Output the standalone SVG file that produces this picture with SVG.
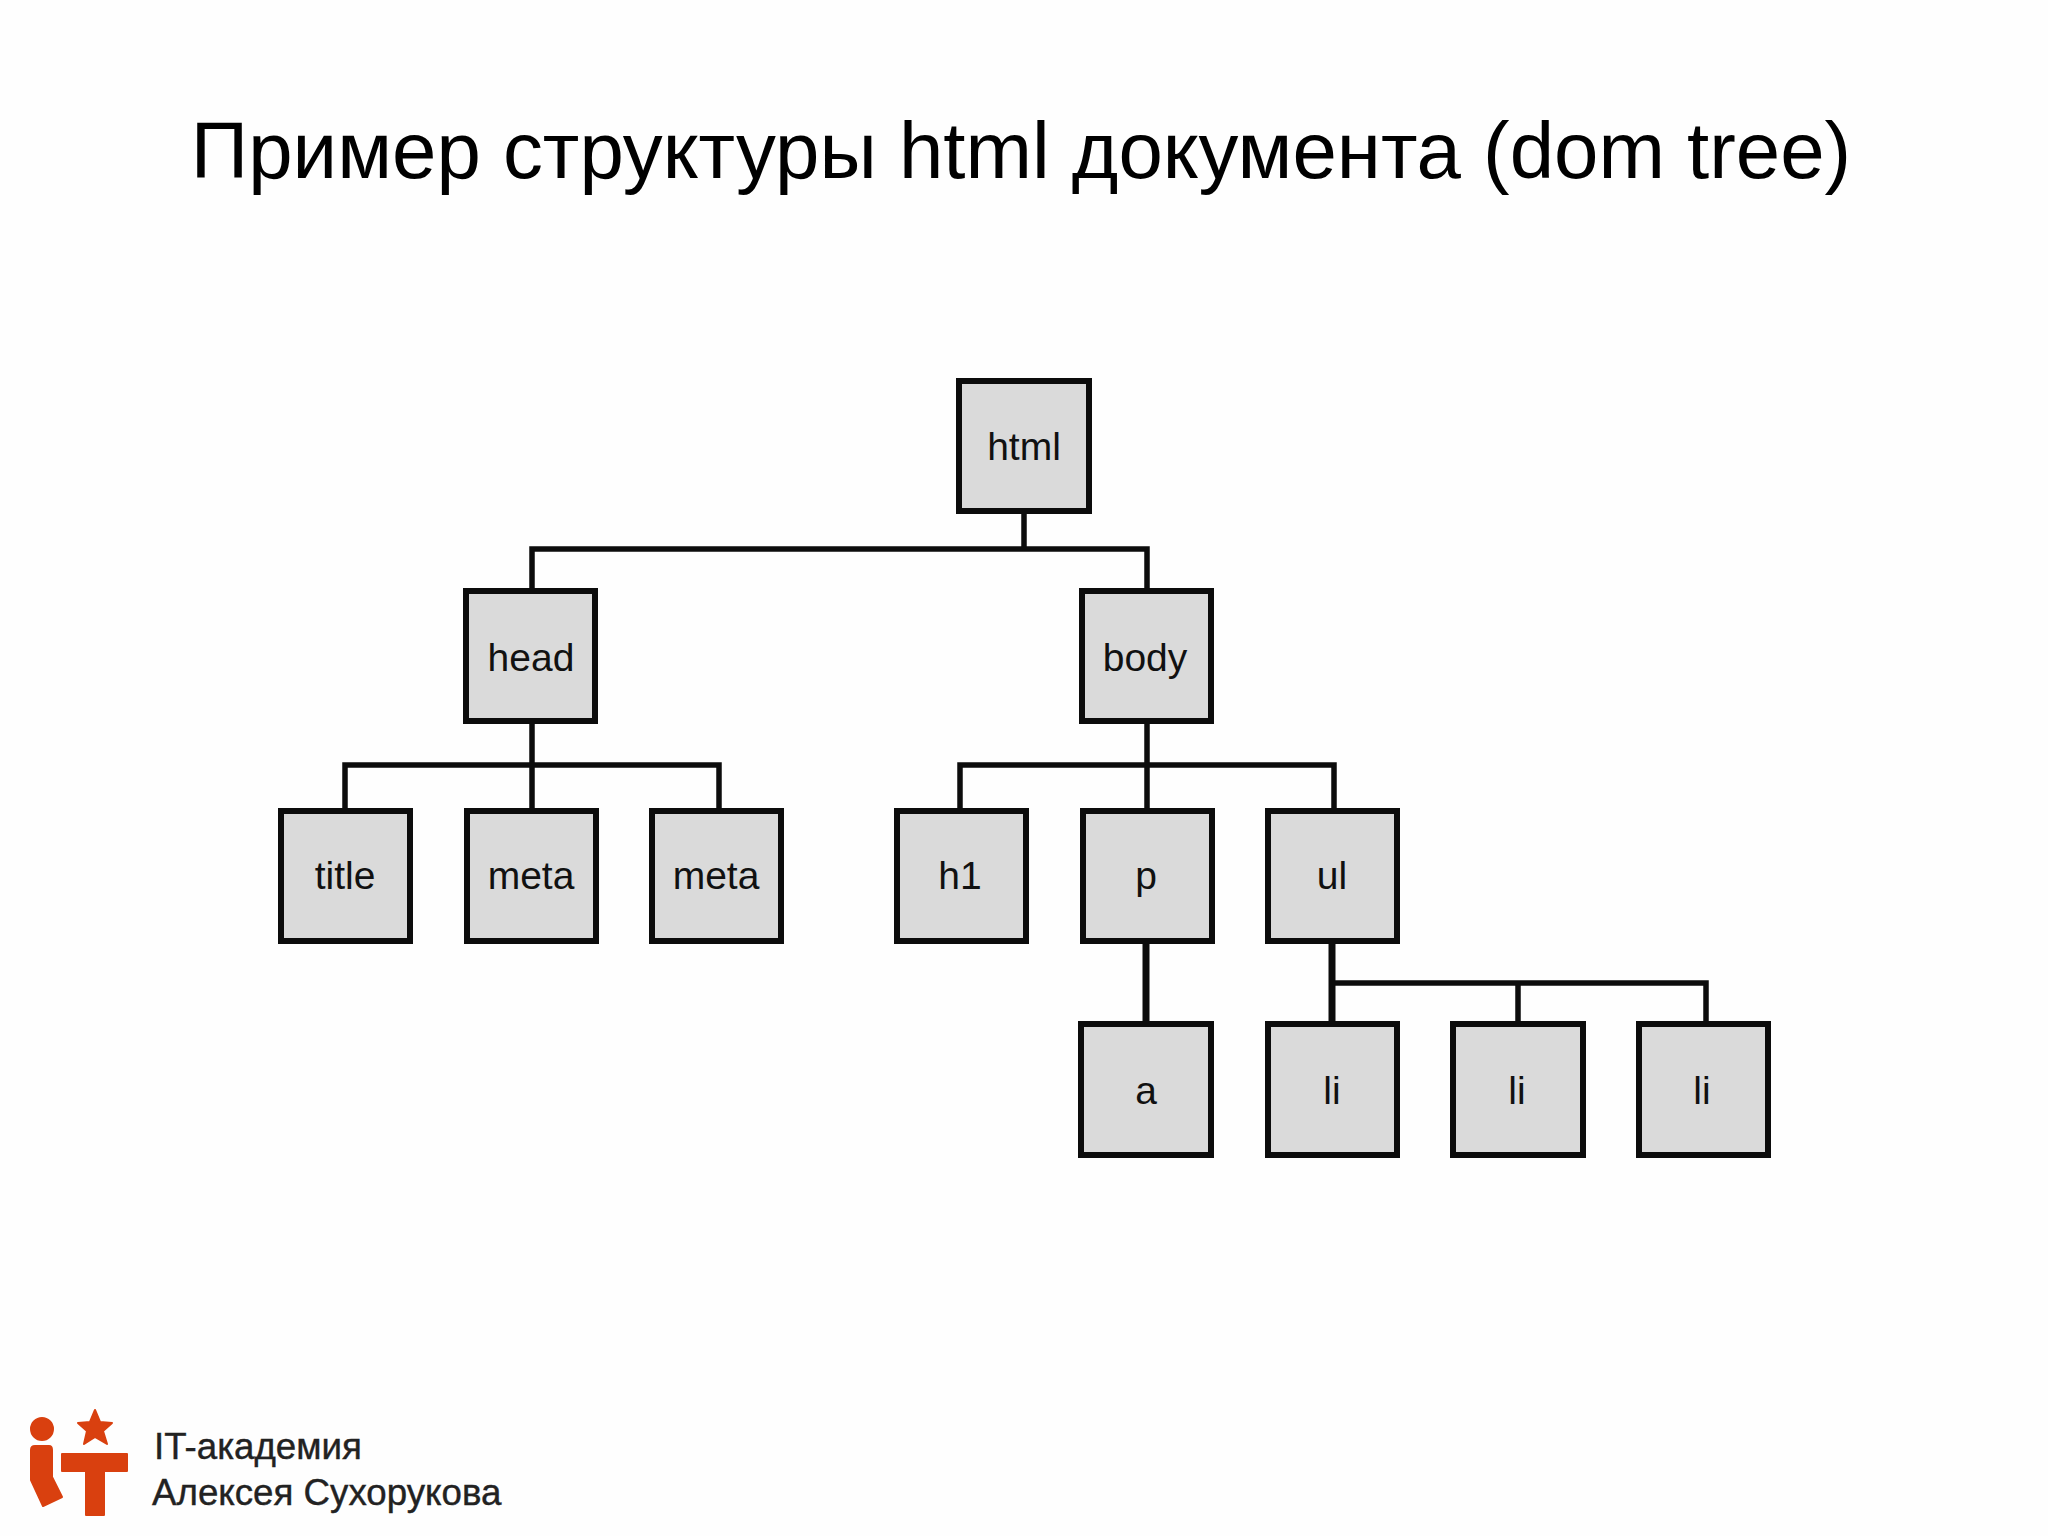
<svg xmlns="http://www.w3.org/2000/svg" width="2048" height="1536" viewBox="0 0 2048 1536">
<style>
.n rect{fill:#dadada;stroke:#0c0c0c;stroke-width:6}
.n text{font:39px "Liberation Sans",Arial,sans-serif;fill:#111;text-anchor:middle}
#connectors path{fill:none;stroke:#0c0c0c;stroke-width:5.5}
#connectors path.w{stroke-width:7}
.logo{fill:#d9400f;stroke:#d9400f;stroke-width:2;stroke-linejoin:round}
.f{font:36.7px "Liberation Sans",Arial,sans-serif;fill:#222;stroke:#222;stroke-width:.4}
</style>
<rect width="2048" height="1536" fill="#fefefe"/>
<text id="title" x="1021" y="178" text-anchor="middle" font-family="'Liberation Sans',Arial,sans-serif" font-size="79.8" fill="#000">Пример структуры html документа (dom tree)</text>
<g id="connectors">
<path d="M1024 514V549M532 588V549H1147V588"/>
<path d="M532 724V808M345 808V765H719V808"/>
<path d="M1147 724V808M960 808V765H1334V808"/>
<path class="w" d="M1146 943V1021M1332 943V1021"/>
<path d="M1332 983H1706V1021M1518 983V1021"/>
</g>
<g id="html" class="n"><rect x="959" y="381" width="130" height="130"/><text x="1024" y="460">html</text></g>
<g id="head" class="n"><rect x="466" y="591" width="129" height="130"/><text x="531" y="671">head</text></g>
<g id="body" class="n"><rect x="1082" y="591" width="129" height="130"/><text x="1145" y="671">body</text></g>
<g id="title-node" class="n"><rect x="281" y="811" width="129" height="130"/><text x="345" y="889">title</text></g>
<g id="meta1" class="n"><rect x="467" y="811" width="129" height="130"/><text x="531" y="889">meta</text></g>
<g id="meta2" class="n"><rect x="652" y="811" width="129" height="130"/><text x="716" y="889">meta</text></g>
<g id="h1" class="n"><rect x="897" y="811" width="129" height="130"/><text x="960" y="889">h1</text></g>
<g id="p" class="n"><rect x="1083" y="811" width="129" height="130"/><text x="1146" y="889">p</text></g>
<g id="ul" class="n"><rect x="1268" y="811" width="129" height="130"/><text x="1332" y="889">ul</text></g>
<g id="a" class="n"><rect x="1081" y="1024" width="130" height="131"/><text x="1146" y="1104">a</text></g>
<g id="li1" class="n"><rect x="1268" y="1024" width="129" height="131"/><text x="1332" y="1104">li</text></g>
<g id="li2" class="n"><rect x="1453" y="1024" width="130" height="131"/><text x="1517" y="1104">li</text></g>
<g id="li3" class="n"><rect x="1639" y="1024" width="129" height="131"/><text x="1702" y="1104">li</text></g>
<g id="logo">
<circle class="logo" cx="42" cy="1429" r="11"/>
<polygon class="logo" points="95,1410 100,1422 112,1423 103,1431 107,1444 95,1437 84,1444 87,1431 78,1423 90,1422"/>
<path class="logo" d="M31 1450Q31 1446 35 1446H49Q52 1446 52 1450V1477L62 1497L43 1506L31 1480Z"/>
<polygon class="logo" points="62,1454 127,1454 127,1471 104,1471 104,1515 86,1515 86,1471 62,1471"/>
<text class="f" x="154" y="1459">IT-академия</text>
<text class="f" x="152" y="1505">Алексея Сухорукова</text>
</g>
</svg>
